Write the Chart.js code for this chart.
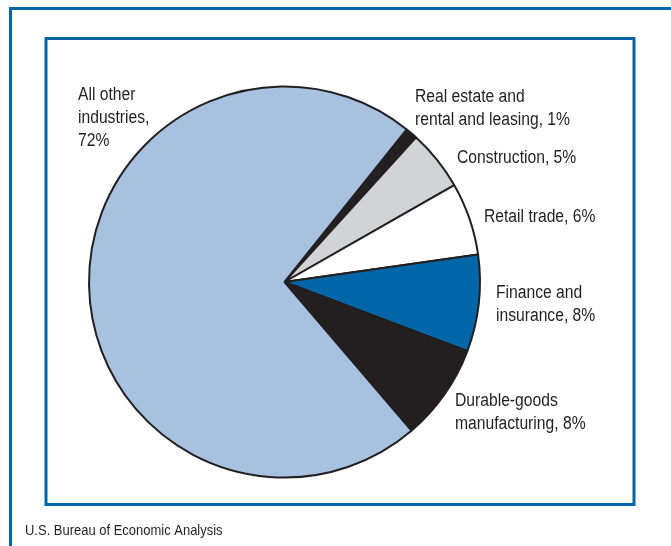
<!DOCTYPE html>
<html>
<head>
<meta charset="utf-8">
<script src="https://cdn.jsdelivr.net/npm/chart.js@4"></script>
<style>
  html, body { margin: 0; padding: 0; background: #fff; }
  #wrap { width: 671px; height: 546px; }
</style>
</head>
<body>
<div id="wrap"><canvas id="industryChart" width="671" height="546"></canvas></div>
<script>
// data
var industries = ["Real estate and rental and leasing", "Construction", "Retail trade",
                  "Finance and insurance", "Durable-goods manufacturing", "All other industries"];
var shares = [1, 5, 6, 8, 8, 72];
var sliceColors = ['#231f20', '#d1d3d4', '#ffffff', '#0066a8', '#231f20', '#a7c2e1'];

// label text, one entry per line, and where it sits
var labelLines = [
    ["Real estate and", "rental and leasing, 1%"],
    ["Construction, 5%"],
    ["Retail trade, 6%"],
    ["Finance and", "insurance, 8%"],
    ["Durable-goods", "manufacturing, 8%"],
    ["All other", "industries,", "72%"]
];
var labelPos = [[415, 97], [457, 158], [484, 217], [496, 293], [455, 401], [78, 95]];
var sourceNote = "U.S. Bureau of Economic Analysis";

var blue = '#0066a8';

function narrowText(ctx, text, x, y, size, squeeze) {
    ctx.save();
    ctx.translate(x, y);
    ctx.scale(squeeze, 1);
    ctx.font = size + 'px "Liberation Sans", Arial, sans-serif';
    ctx.fillStyle = '#231f20';
    ctx.textAlign = 'left';
    ctx.textBaseline = 'middle';
    ctx.fillText(text, 0, 0);
    ctx.restore();
}

var framePlugin = {
    id: 'frame',
    beforeDraw: function(chart) {
        var ctx = chart.ctx;
        ctx.save();
        ctx.strokeStyle = blue;
        ctx.lineWidth = 3;
        // outer frame (runs off the right and bottom edges)
        ctx.beginPath();
        ctx.moveTo(10.5, 560);
        ctx.lineTo(10.5, 8.5);
        ctx.lineTo(680, 8.5);
        ctx.stroke();
        // inner box
        ctx.strokeRect(46, 38.5, 588, 466);
        ctx.restore();
    },
    afterDraw: function(chart) {
        var ctx = chart.ctx;
        labelLines.forEach(function(lines, i) {
            lines.forEach(function(line, j) {
                narrowText(ctx, line, labelPos[i][0], labelPos[i][1] + j * 23, 18, 0.87);
            });
        });
        narrowText(ctx, sourceNote, 25, 531, 15, 0.865);
    }
};

var ctx = document.getElementById('industryChart').getContext('2d');

var chart = new Chart(ctx, {
    type: 'pie',
    data: {
        labels: industries,
        datasets: [{
            data: shares,
            backgroundColor: sliceColors,
            borderColor: '#231f20',
            borderWidth: 2
        }]
    },
    options: {
        responsive: false,
        animation: false,
        rotation: 38.7,
        layout: { padding: { left: 88, right: 190, top: 85.5, bottom: 67.5 } },
        plugins: {
            legend: { display: false },
            tooltip: { enabled: false }
        }
    },
    plugins: [framePlugin]
});
</script>
</body>
</html>
